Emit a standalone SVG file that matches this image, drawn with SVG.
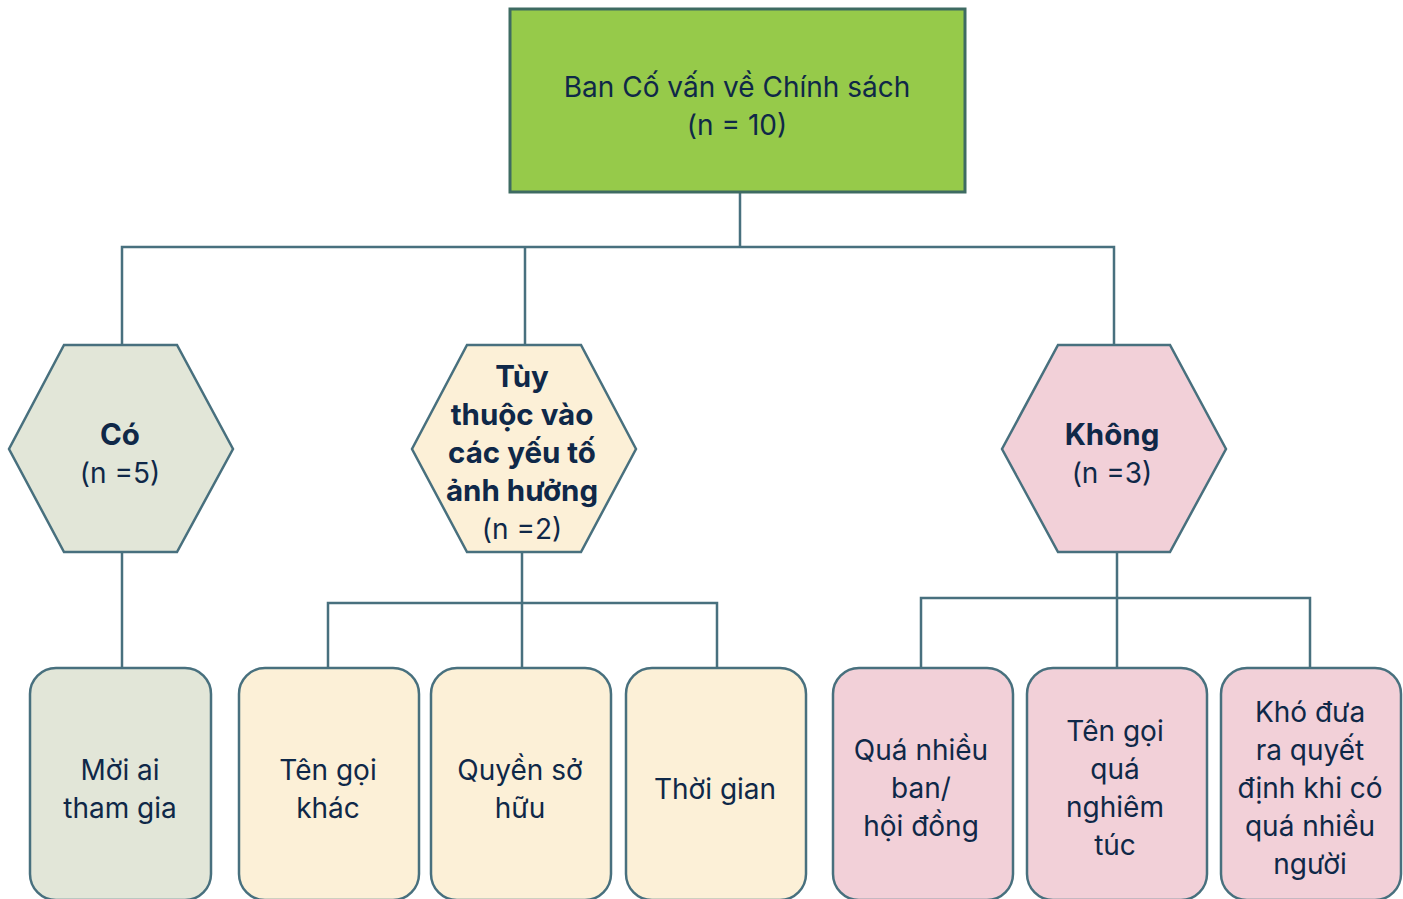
<svg xmlns="http://www.w3.org/2000/svg" width="1403" height="899" viewBox="0 0 1403 899">
  <style>
    .ln { fill: none; stroke: #48707E; stroke-width: 2.5; }
    .shape { stroke: #48707E; stroke-width: 2.5; }
    .root { fill: #96CA4A; stroke: #3E6B62; stroke-width: 3; }
    .yes { fill: #E2E6D8; }
    .dep { fill: #FCF0D7; }
    .no { fill: #F2D0D8; }
    text { font-family: Inter, "Noto Sans", "Liberation Sans", sans-serif; font-size: 28px; fill: #0F2848; text-anchor: middle; }
    .b { font-weight: 700; font-size: 29.5px; }
  </style>

  <!-- connectors -->
  <g id="connectors" class="ln">
    <path d="M740 192 V247 M122 345 V247 H1114 V345 M525 247 V345"/>
    <path d="M122 552 V668"/>
    <path d="M522 552 V668 M328 668 V603 H717 V668"/>
    <path d="M1117 552 V668 M921 668 V598 H1310 V668"/>
  </g>

  <!-- root -->
  <g id="root">
    <rect class="root" x="510" y="9" width="455" height="183"/>
    <text x="737" y="97">Ban Cố vấn về Chính sách</text>
    <text x="737" y="135">(n = 10)</text>
  </g>

  <!-- second level -->
  <g id="yes">
    <polygon class="shape yes" points="64,345 177,345 233,449 177,552 64,552 9,449"/>
    <text class="b" x="120" y="445">Có</text>
    <text x="120" y="483">(n =5)</text>
  </g>
  <g id="depends">
    <polygon class="shape dep" points="467,345 581,345 636,449 581,552 467,552 412,449"/>
    <text class="b" x="522" y="387">Tùy</text>
    <text class="b" x="522" y="425">thuộc vào</text>
    <text class="b" x="522" y="463">các yếu tố</text>
    <text class="b" x="522" y="501">ảnh hưởng</text>
    <text x="522" y="539">(n =2)</text>
  </g>
  <g id="no">
    <polygon class="shape no" points="1058,345 1170,345 1226,449 1170,552 1058,552 1002,449"/>
    <text class="b" x="1112" y="445">Không</text>
    <text x="1112" y="483">(n =3)</text>
  </g>

  <!-- leaves -->
  <g id="invite">
    <rect class="shape yes" x="30" y="668" width="181" height="232" rx="26"/>
    <text x="120" y="780">Mời ai</text>
    <text x="120" y="818">tham gia</text>
  </g>
  <g id="other-name">
    <rect class="shape dep" x="239" y="668" width="180" height="232" rx="26"/>
    <text x="328" y="780">Tên gọi</text>
    <text x="328" y="818">khác</text>
  </g>
  <g id="ownership">
    <rect class="shape dep" x="431" y="668" width="180" height="232" rx="26"/>
    <text x="520" y="780">Quyền sở</text>
    <text x="520" y="818">hữu</text>
  </g>
  <g id="time">
    <rect class="shape dep" x="626" y="668" width="180" height="232" rx="26"/>
    <text x="715" y="799">Thời gian</text>
  </g>
  <g id="too-many-boards">
    <rect class="shape no" x="833" y="668" width="180" height="232" rx="26"/>
    <text x="921" y="760">Quá nhiều</text>
    <text x="921" y="798">ban/</text>
    <text x="921" y="836">hội đồng</text>
  </g>
  <g id="too-formal">
    <rect class="shape no" x="1027" y="668" width="180" height="232" rx="26"/>
    <text x="1115" y="741">Tên gọi</text>
    <text x="1115" y="779">quá</text>
    <text x="1115" y="817">nghiêm</text>
    <text x="1115" y="855">túc</text>
  </g>
  <g id="hard-to-decide">
    <rect class="shape no" x="1221" y="668" width="180" height="232" rx="26"/>
    <text x="1310" y="722">Khó đưa</text>
    <text x="1310" y="760">ra quyết</text>
    <text x="1310" y="798">định khi có</text>
    <text x="1310" y="836">quá nhiều</text>
    <text x="1310" y="874">người</text>
  </g>
</svg>
